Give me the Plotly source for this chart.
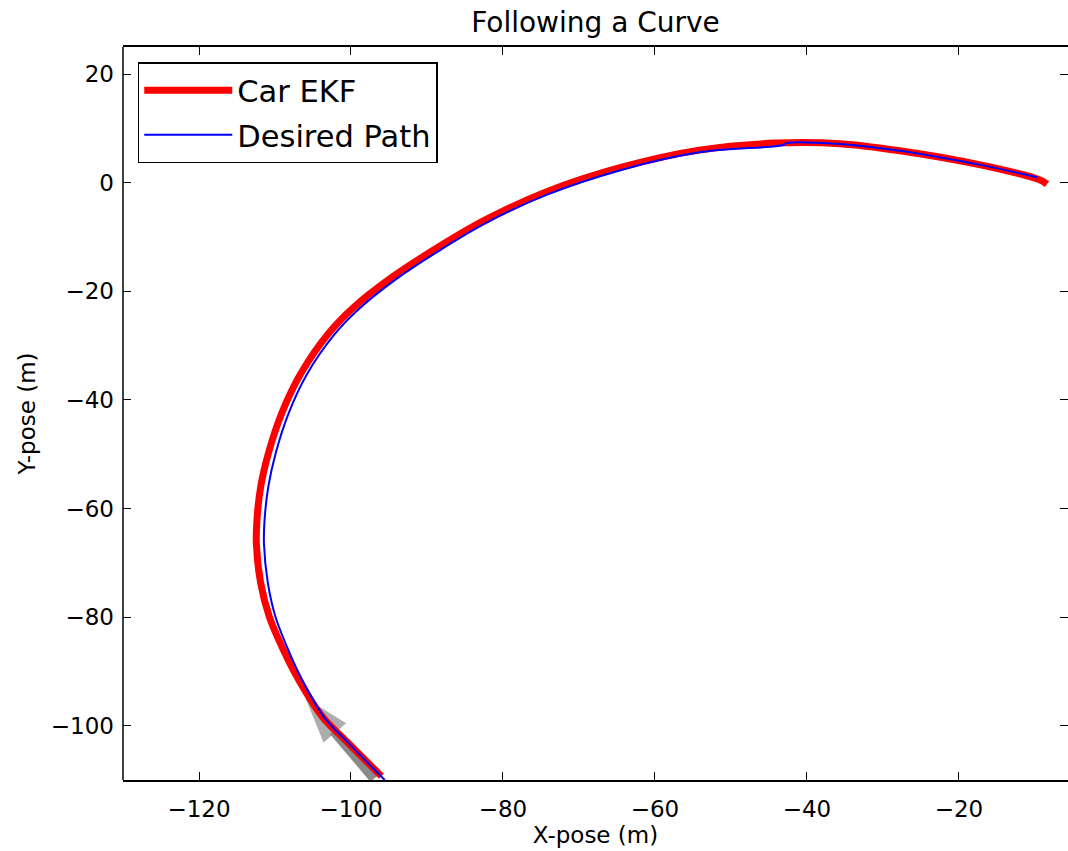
import plotly.graph_objects as go

# Car EKF trajectory (m)
ekf_x = [-96.0, -100.51, -103.8, -106.9, -109.1, -110.75, -111.9, -112.45, -112.37,
         -111.87, -110.86, -109.10, -106.58, -102.8, -99.53, -94.49, -88.44, -82.40,
         -74.33, -64.26, -54.19, -44.11, -35.65, -27.78, -16.85, -9.33, -8.41]
ekf_y = [-109.3, -103.0, -98.3, -91.5, -85.4, -79.9, -73.6, -66.5, -62.05,
         -55.9, -49.8, -42.4, -35.1, -27.5, -22.8, -17.3, -11.8, -6.9,
         -1.7, 2.9, 6.0, 7.3, 7.2, 5.9, 3.2, 0.5, -0.25]

# Desired path (m)
path_x = [-95.56, -100.25, -103.5, -106.45, -108.45, -109.95, -110.95, -111.45, -111.37,
          -110.87, -109.91, -108.25, -105.83, -102.15, -99.0, -94.1, -88.15, -82.2,
          -74.2, -64.2, -54.19, -43.11, -42.7, -35.65, -27.78, -16.85, -9.73]
path_y = [-110.0, -103.3, -98.5, -91.5, -85.4, -79.9, -73.6, -66.5, -62.05,
          -55.9, -49.8, -42.6, -35.35, -27.9, -23.3, -17.8, -12.3, -7.4,
          -2.2, 2.45, 5.6, 6.95, 7.3, 7.15, 5.9, 3.2, 1.0]

# Initial heading arrow (tail -> tip)
arrow_x = [-97.0, -106.0]
arrow_y = [-109.8, -94.9]

x_ticks = [-120, -100, -80, -60, -40, -20]
y_ticks = [-100, -80, -60, -40, -20, 0, 20]

FONT = "DejaVu Sans"
GRAY = "rgba(128,128,128,0.92)"

fig = go.Figure()
fig.add_trace(go.Scatter(
    x=arrow_x, y=arrow_y, mode="lines+markers", showlegend=False, hoverinfo="skip",
    line=dict(color=GRAY, width=9),
    marker=dict(symbol="arrow", angleref="previous", size=[0, 48],
                color=GRAY, line=dict(width=0)),
))
fig.add_trace(go.Scatter(x=ekf_x, y=ekf_y, mode="lines", name="Car EKF",
                         legendgroup="a",
                         line=dict(color="#ff0000", width=7, shape="spline", smoothing=1.0)))
fig.add_trace(go.Scatter(x=path_x, y=path_y, mode="lines", name="Desired Path",
                         legendgroup="b",
                         line=dict(color="#0000ff", width=2, shape="spline", smoothing=1.0)))

axis_common = dict(
    showgrid=False, zeroline=False, ticks="inside", ticklen=8, tickwidth=1, tickcolor="#000",
    tickfont=dict(family=FONT, size=23, color="#000"), ticklabelstandoff=8,
)

fig.update_layout(
    width=1068, height=851,
    margin=dict(l=123, r=0, t=47, b=71),
    paper_bgcolor="white", plot_bgcolor="white",
    title=dict(text="Following a Curve", x=0.5, xref="paper", xanchor="center",
               y=1 - 22 / 851, yanchor="middle",
               font=dict(family=FONT, size=28, color="#000")),
    xaxis=dict(range=[-130, -5.65], tickvals=x_ticks, showline=True, linecolor="#000",
               linewidth=1.5, mirror="ticks", **axis_common,
               title=dict(text="X-pose (m)", standoff=1,
                          font=dict(family=FONT, size=23, color="#000"))),
    yaxis=dict(range=[-110, 25], tickvals=y_ticks, showline=False, mirror="ticks",
               **axis_common,
               title=dict(text="Y-pose (m)", standoff=8,
                          font=dict(family=FONT, size=23, color="#000"))),
    legend=dict(x=0.0156, y=0.979, xanchor="left", yanchor="top",
                bgcolor="white", bordercolor="#000", borderwidth=1.5,
                font=dict(family=FONT, size=30.5, color="#000"),
                itemwidth=88, traceorder="grouped", tracegroupgap=2),
    shapes=[dict(type="line", xref="paper", yref="paper", x0=0, x1=0, y0=0, y1=1,
                 line=dict(color="#000", width=1.5), layer="above")],
)

fig.write_html("out.html")
